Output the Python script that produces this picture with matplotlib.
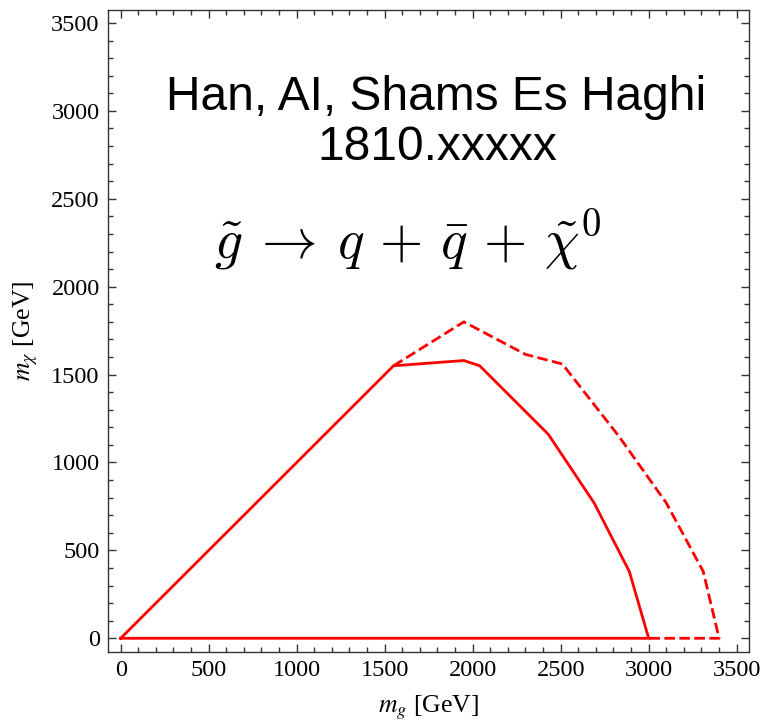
import numpy as np
import matplotlib
matplotlib.use("Agg")
import matplotlib.pyplot as plt
from matplotlib.ticker import MultipleLocator

# excluded region contours in the (m_g, m_chi) plane, GeV
solid_mg = [0, 1550, 1950, 2040, 2430, 2690, 2890, 3000, 0]
solid_mchi = [0, 1550, 1580, 1550, 1160, 770, 380, 0, 0]
dashed_mg = [1550, 1950, 2300, 2510, 2830, 3100, 3310, 3400, 3000]
dashed_mchi = [1550, 1800, 1615, 1560, 1150, 770, 380, 0, 0]

RED = (1.0, 0.0, 0.0)
FRAME = "#333333"

plt.rcParams["font.family"] = ["Liberation Serif", "DejaVu Serif"]
plt.rcParams["mathtext.fontset"] = "stix"

fig = plt.figure(figsize=(7.67, 7.26), dpi=100)
ax = fig.add_axes([108 / 767, 74 / 726, 641 / 767, 642 / 726])

ax.plot(solid_mg, solid_mchi, color=RED, lw=2.0, solid_joinstyle="miter")
ax.plot(dashed_mg, dashed_mchi, color=RED, lw=2.0, dashes=(3.8, 1.6))

ax.set_xlim(-72, 3570)
ax.set_ylim(-78, 3574)

for side in ax.spines.values():
    side.set_color(FRAME)
    side.set_linewidth(1.0)

ax.xaxis.set_major_locator(MultipleLocator(500))
ax.xaxis.set_minor_locator(MultipleLocator(100))
ax.yaxis.set_major_locator(MultipleLocator(500))
ax.yaxis.set_minor_locator(MultipleLocator(100))
ax.tick_params(which="both", direction="in", top=True, right=True,
               color=FRAME, width=1.0, labelsize=17.5, pad=6)
ax.tick_params(which="major", length=6)
ax.tick_params(which="minor", length=3.5)

ax.set_xlabel(r"$m_g$ [GeV]", fontsize=18.5, labelpad=9)
ax.set_ylabel(r"$m_\chi$ [GeV]", fontsize=18.5, labelpad=8)

fig.text(0.568, 0.8485, "Han, AI, Shams Es Haghi", ha="center",
         va="baseline", fontsize=34.5, family="Liberation Sans")
fig.text(0.570, 0.7796, "1810.xxxxx", ha="center", va="baseline",
         fontsize=34.5, family="Liberation Sans")
fig.text(0.532, 0.6445,
         r"$\tilde{g}\:\rightarrow\:q\,+\,\bar{q}\,+\,\tilde{\chi}^0$",
         ha="center", va="baseline", fontsize=40, math_fontfamily="cm")

fig.savefig("out.png", dpi=100)
